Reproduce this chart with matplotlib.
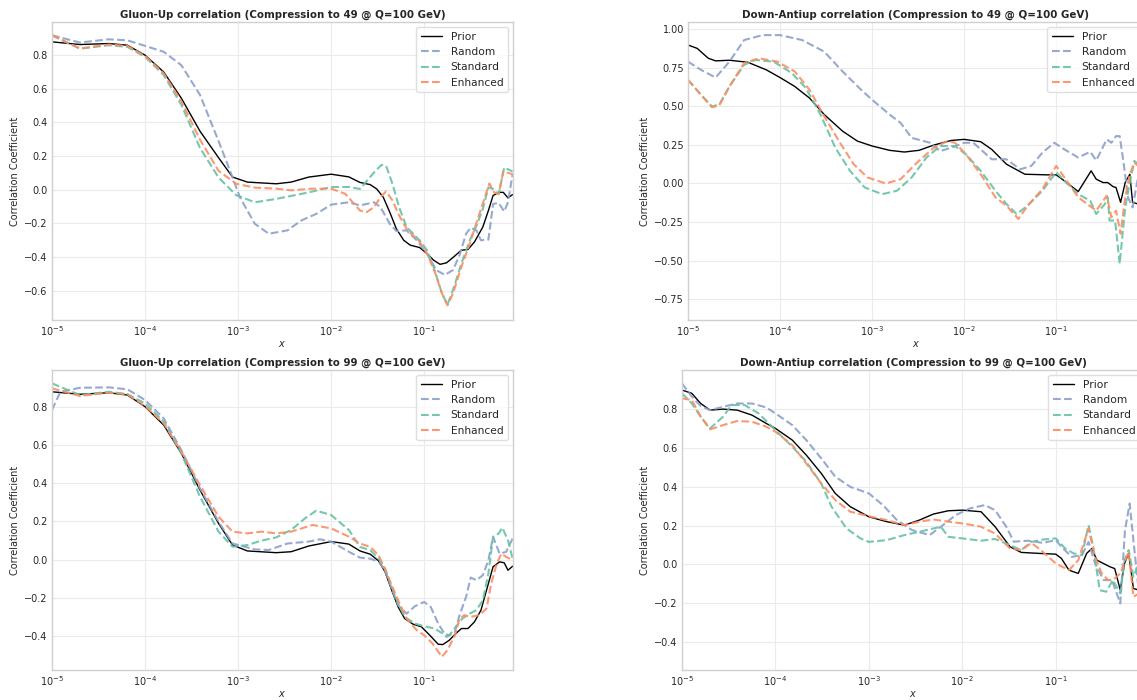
import numpy as np
import matplotlib
matplotlib.use("Agg")
import matplotlib.pyplot as plt
import seaborn as sns

sns.set_style("whitegrid")
plt.rcParams['font.family'] = ['DejaVu Sans']

labels = ["Prior", "Random", "Standard", "Enhanced"]
colors = ["black", "#8da0cb", "#66c2a5", "#fc8d62"]

titles = [
    "Gluon-Up correlation (Compression to 49 @ Q=100 GeV)",
    "Down-Antiup correlation (Compression to 49 @ Q=100 GeV)",
    "Gluon-Up correlation (Compression to 99 @ Q=100 GeV)",
    "Down-Antiup correlation (Compression to 99 @ Q=100 GeV)",
]

# (log10 x, correlation) pairs
tl_prior = [(-5.00,0.879),(-4.70,0.863),(-4.39,0.869),(-4.19,0.859),(-4.00,0.800),(-3.80,0.700),(-3.61,0.544),(-3.41,0.348),(-3.21,0.190),(-3.06,0.075),(-2.90,0.045),(-2.59,0.035),(-2.43,0.045),(-2.24,0.075),(-2.00,0.092),(-1.81,0.076),
            (-1.69,0.043),(-1.58,0.030),(-1.51,0.004),(-1.44,-0.045),(-1.37,-0.134),(-1.30,-0.232),(-1.22,-0.301),(-1.15,-0.330),(-1.05,-0.344),(-0.97,-0.380),(-0.90,-0.419),(-0.83,-0.444),(-0.76,-0.435),(-0.69,-0.403),(-0.60,-0.360),(-0.53,-0.356),(-0.46,-0.311),(-0.37,-0.222),(-0.31,-0.124),(-0.26,-0.035),(-0.20,-0.016),(-0.15,-0.016),(-0.10,-0.049),(-0.05,-0.029)]
tl_random = [(-5.00,0.918),(-4.70,0.875),(-4.39,0.894),(-4.19,0.888),(-4.00,0.855),(-3.80,0.820),(-3.61,0.740),(-3.41,0.564),(-3.21,0.289),(-3.10,0.131),(-2.98,-0.046),(-2.82,-0.203),(-2.67,-0.262),(-2.47,-0.242),(-2.32,-0.183),(-2.16,-0.144),(-2.00,-0.089),(-1.81,-0.075),
             (-1.69,-0.094),(-1.54,-0.075),(-1.47,-0.104),(-1.37,-0.203),(-1.30,-0.246),(-1.19,-0.242),(-1.08,-0.301),(-0.97,-0.380),(-0.87,-0.478),(-0.78,-0.507),(-0.69,-0.478),(-0.62,-0.389),(-0.55,-0.262),(-0.50,-0.226),(-0.44,-0.242),(-0.39,-0.301),(-0.31,-0.297),(-0.26,-0.085),(-0.20,-0.079),(-0.14,-0.130),(-0.10,-0.075),(-0.05,0.092)]
tl_standard = [(-5.00,0.918),(-4.70,0.839),(-4.39,0.859),(-4.19,0.849),(-4.00,0.790),(-3.80,0.682),(-3.61,0.505),(-3.41,0.249),(-3.21,0.072),(-3.02,-0.033),(-2.82,-0.075),(-2.59,-0.055),(-2.24,-0.016),(-2.00,0.016),(-1.81,0.016),
               (-1.69,0.004),(-1.54,0.102),(-1.46,0.147),(-1.41,0.142),(-1.34,0.033),(-1.27,-0.104),(-1.19,-0.222),(-1.05,-0.301),(-0.97,-0.360),(-0.90,-0.458),(-0.81,-0.616),(-0.75,-0.684),(-0.69,-0.596),(-0.60,-0.439),(-0.51,-0.301),(-0.43,-0.203),(-0.37,-0.114),(-0.31,0.014),(-0.26,0.004),(-0.20,-0.026),(-0.14,0.132),(-0.05,0.108)]
tl_enhanced = [(-5.00,0.918),(-4.70,0.839),(-4.39,0.863),(-4.19,0.855),(-4.00,0.796),(-3.80,0.692),(-3.61,0.525),(-3.41,0.298),(-3.21,0.112),(-3.02,0.035),(-2.82,0.012),(-2.59,0.006),(-2.43,-0.004),(-2.20,0.006),(-2.00,0.006),(-1.85,-0.024),
               (-1.69,-0.124),(-1.62,-0.134),(-1.54,-0.104),(-1.47,-0.045),(-1.41,-0.010),(-1.34,-0.065),(-1.27,-0.153),(-1.18,-0.242),(-1.06,-0.301),(-0.97,-0.380),(-0.88,-0.498),(-0.81,-0.616),(-0.75,-0.688),(-0.69,-0.616),(-0.60,-0.458),(-0.51,-0.321),(-0.43,-0.183),(-0.36,-0.065),(-0.30,0.037),(-0.25,-0.016),(-0.20,-0.026),(-0.15,0.108),(-0.05,0.092)]

tr_prior = [(-5.00,0.898),(-4.90,0.876),(-4.78,0.812),(-4.70,0.795),(-4.55,0.799),(-4.35,0.786),(-4.15,0.737),(-4.00,0.687),(-3.84,0.629),(-3.68,0.554),(-3.52,0.447),(-3.32,0.339),(-3.16,0.275),(-3.00,0.243),(-2.81,0.215),(-2.65,0.204),(-2.49,0.215),(-2.33,0.249),(-2.14,0.279),(-2.00,0.286),(-1.82,0.271),(-1.70,0.221),(-1.54,0.125),(-1.34,0.060),(-1.10,0.056),(-1.00,0.056),(-0.91,0.017),(-0.76,-0.052),(-0.62,0.082),(-0.565,0.028),(-0.49,0.006),(-0.44,0.006),(-0.38,-0.021),(-0.35,-0.026),(-0.30,-0.122),(-0.25,0.006),(-0.20,0.060),(-0.17,-0.122),(-0.11,-0.133),(-0.05,-0.140)]
tr_random = [(-5.00,0.790),(-4.86,0.737),(-4.70,0.687),(-4.55,0.790),(-4.39,0.930),(-4.19,0.962),(-4.00,0.962),(-3.76,0.930),(-3.52,0.855),(-3.32,0.726),(-3.12,0.608),(-3.00,0.543),(-2.81,0.447),(-2.69,0.393),(-2.57,0.296),(-2.37,0.264),(-2.26,0.210),(-2.14,0.232),(-2.00,0.264),(-1.90,0.264),(-1.70,0.157),(-1.54,0.157),(-1.39,0.092),(-1.27,0.114),(-1.15,0.200),(-1.02,0.264),(-0.91,0.221),(-0.76,0.168),(-0.63,0.206),(-0.565,0.150),(-0.45,0.286),(-0.40,0.264),(-0.35,0.307),(-0.31,0.307),(-0.27,0.146),(-0.22,-0.090),(-0.17,-0.155),(-0.11,0.040),(-0.05,0.100)]
tr_standard = [(-5.00,0.672),(-4.86,0.576),(-4.74,0.500),(-4.66,0.511),(-4.55,0.629),(-4.39,0.769),(-4.27,0.801),(-4.07,0.790),(-3.87,0.715),(-3.72,0.619),(-3.56,0.447),(-3.40,0.232),(-3.24,0.082),(-3.08,-0.026),(-2.89,-0.069),(-2.73,-0.047),(-2.57,0.039),(-2.41,0.168),(-2.26,0.243),(-2.10,0.243),(-1.98,0.189),(-1.82,0.082),(-1.66,-0.047),(-1.54,-0.133),(-1.43,-0.198),(-1.31,-0.144),(-1.15,-0.047),(-1.00,0.074),(-0.91,0.017),(-0.76,-0.069),(-0.63,-0.112),(-0.565,-0.198),(-0.47,-0.133),(-0.44,-0.090),(-0.42,-0.240),(-0.36,-0.240),(-0.31,-0.520),(-0.25,-0.155),(-0.20,0.006),(-0.15,0.146),(-0.11,0.125),(-0.05,0.100)]
tr_enhanced = [(-5.00,0.672),(-4.86,0.576),(-4.74,0.494),(-4.66,0.507),(-4.55,0.629),(-4.39,0.780),(-4.23,0.812),(-4.03,0.790),(-3.84,0.726),(-3.68,0.608),(-3.52,0.436),(-3.36,0.275),(-3.20,0.125),(-3.05,0.039),(-2.85,0.000),(-2.69,0.028),(-2.53,0.125),(-2.33,0.232),(-2.18,0.275),(-2.10,0.264),(-1.98,0.189),(-1.82,0.060),(-1.66,-0.090),(-1.54,-0.144),(-1.41,-0.230),(-1.31,-0.144),(-1.15,-0.037),(-1.00,0.114),(-0.91,0.039),(-0.76,-0.090),(-0.565,-0.176),(-0.45,-0.079),(-0.40,-0.219),(-0.35,-0.176),(-0.30,-0.326),(-0.25,-0.090),(-0.20,0.060),(-0.15,0.135),(-0.11,0.114),(-0.05,0.100)]

bl_prior = [(-5.00,0.878),(-4.70,0.865),(-4.39,0.873),(-4.19,0.861),(-4.00,0.800),(-3.80,0.704),(-3.61,0.556),(-3.41,0.364),(-3.21,0.189),(-3.06,0.076),(-2.90,0.045),(-2.59,0.036),(-2.43,0.041),(-2.24,0.071),(-2.00,0.094),(-1.81,0.081),
            (-1.69,0.045),(-1.58,0.028),(-1.49,-0.007),(-1.42,-0.065),(-1.35,-0.160),(-1.28,-0.248),(-1.21,-0.309),(-1.12,-0.338),(-1.03,-0.352),(-0.94,-0.396),(-0.85,-0.443),(-0.80,-0.445),(-0.73,-0.422),(-0.66,-0.387),(-0.60,-0.361),(-0.53,-0.361),(-0.46,-0.326),(-0.39,-0.265),(-0.33,-0.160),(-0.26,-0.038),(-0.19,-0.012),(-0.14,-0.017),(-0.10,-0.056),(-0.05,-0.035)]
bl_random = [(-5.00,0.783),(-4.91,0.878),(-4.70,0.899),(-4.39,0.901),(-4.19,0.891),(-4.00,0.835),(-3.80,0.739),(-3.61,0.573),(-3.41,0.373),(-3.21,0.198),(-3.06,0.084),(-2.82,0.053),(-2.67,0.050),(-2.47,0.084),(-2.24,0.094),(-2.12,0.106),(-2.00,0.094),(-1.81,0.041),
             (-1.69,0.010),(-1.58,0.005),(-1.49,-0.012),(-1.42,-0.056),(-1.35,-0.152),(-1.28,-0.239),(-1.19,-0.283),(-1.10,-0.244),(-1.00,-0.222),(-0.93,-0.248),(-0.85,-0.335),(-0.76,-0.405),(-0.67,-0.379),(-0.62,-0.291),(-0.55,-0.195),(-0.50,-0.094),(-0.44,-0.108),(-0.37,-0.082),(-0.31,-0.003),(-0.26,0.119),(-0.19,0.031),(-0.12,0.040),(-0.05,0.110)]
bl_standard = [(-5.00,0.922),(-4.70,0.861),(-4.39,0.878),(-4.19,0.866),(-4.00,0.817),(-3.80,0.722),(-3.61,0.556),(-3.41,0.329),(-3.21,0.146),(-3.06,0.067),(-2.90,0.076),(-2.75,0.099),(-2.59,0.116),(-2.43,0.155),(-2.28,0.216),(-2.16,0.256),(-2.00,0.233),(-1.81,0.155),
               (-1.69,0.066),(-1.58,0.049),(-1.49,0.005),(-1.42,-0.047),(-1.35,-0.143),(-1.28,-0.230),(-1.21,-0.300),(-1.10,-0.335),(-1.00,-0.349),(-0.89,-0.361),(-0.80,-0.387),(-0.73,-0.396),(-0.66,-0.352),(-0.59,-0.309),(-0.51,-0.283),(-0.44,-0.265),(-0.37,-0.213),(-0.31,-0.073),(-0.26,0.119),(-0.20,0.136),(-0.16,0.167),(-0.10,0.101),(-0.05,0.005)]
bl_enhanced = [(-5.00,0.896),(-4.70,0.856),(-4.39,0.873),(-4.19,0.865),(-4.00,0.803),(-3.80,0.713),(-3.61,0.565),(-3.41,0.390),(-3.21,0.224),(-3.06,0.146),(-2.90,0.137),(-2.75,0.146),(-2.59,0.137),(-2.43,0.146),(-2.20,0.181),(-2.00,0.163),(-1.81,0.120),
               (-1.69,0.084),(-1.58,0.066),(-1.49,0.023),(-1.42,-0.056),(-1.35,-0.134),(-1.28,-0.213),(-1.19,-0.309),(-1.08,-0.370),(-1.00,-0.396),(-0.91,-0.440),(-0.81,-0.509),(-0.75,-0.474),(-0.67,-0.396),(-0.62,-0.309),(-0.57,-0.291),(-0.50,-0.300),(-0.41,-0.291),(-0.33,-0.256),(-0.28,-0.126),(-0.22,-0.021),(-0.17,0.031),(-0.12,0.014),(-0.05,-0.003)]

br_prior = [(-5.00,0.896),(-4.895,0.879),(-4.80,0.827),(-4.70,0.793),(-4.56,0.798),(-4.41,0.793),(-4.25,0.767),(-4.10,0.725),(-4.00,0.699),(-3.82,0.639),(-3.67,0.562),(-3.51,0.468),(-3.36,0.365),(-3.20,0.297),(-3.00,0.245),(-2.81,0.220),(-2.62,0.202),(-2.46,0.228),(-2.31,0.259),(-2.15,0.276),(-2.00,0.279),(-1.80,0.271),(-1.65,0.194),(-1.49,0.091),(-1.37,0.062),(-1.18,0.057),(-1.00,0.053),(-0.94,0.031),(-0.86,-0.029),(-0.76,-0.046),(-0.67,0.057),(-0.615,0.082),(-0.56,0.022),(-0.49,0.005),(-0.42,-0.012),(-0.37,-0.021),(-0.31,-0.132),(-0.265,0.005),(-0.22,0.057),(-0.17,-0.123),(-0.11,-0.132),(-0.05,-0.140)]
br_random = [(-5.00,0.930),(-4.895,0.862),(-4.80,0.814),(-4.70,0.793),(-4.56,0.810),(-4.41,0.827),(-4.25,0.827),(-4.10,0.807),(-4.00,0.776),(-3.82,0.716),(-3.67,0.639),(-3.51,0.545),(-3.36,0.451),(-3.20,0.399),(-3.00,0.365),(-2.85,0.305),(-2.70,0.228),(-2.54,0.177),(-2.35,0.151),(-2.23,0.194),(-2.07,0.254),(-1.92,0.288),(-1.76,0.305),(-1.65,0.279),(-1.53,0.194),(-1.45,0.117),(-1.30,0.122),(-1.14,0.111),(-1.00,0.125),(-0.94,0.091),(-0.83,0.039),(-0.72,0.048),(-0.65,0.116),(-0.58,0.005),(-0.49,-0.080),(-0.40,-0.080),(-0.31,-0.200),(-0.26,0.176),(-0.21,0.313),(-0.17,0.125),(-0.11,-0.149),(-0.05,-0.200)]
br_standard = [(-5.00,0.879),(-4.895,0.827),(-4.80,0.759),(-4.70,0.699),(-4.56,0.759),(-4.47,0.819),(-4.33,0.819),(-4.18,0.776),(-4.00,0.690),(-3.82,0.605),(-3.67,0.528),(-3.51,0.416),(-3.40,0.297),(-3.24,0.185),(-3.09,0.134),(-3.00,0.116),(-2.81,0.125),(-2.62,0.151),(-2.46,0.168),(-2.31,0.185),(-2.23,0.194),(-2.15,0.142),(-2.00,0.134),(-1.80,0.122),(-1.65,0.131),(-1.49,0.099),(-1.37,0.074),(-1.26,0.116),(-1.14,0.128),(-1.00,0.134),(-0.90,0.082),(-0.81,0.057),(-0.72,0.048),(-0.65,0.202),(-0.60,0.091),(-0.53,-0.132),(-0.46,-0.140),(-0.39,-0.080),(-0.31,-0.149),(-0.265,0.022),(-0.22,0.074),(-0.17,-0.063),(-0.11,0.005),(-0.05,0.000)]
br_enhanced = [(-5.00,0.853),(-4.895,0.845),(-4.80,0.759),(-4.70,0.694),(-4.56,0.716),(-4.41,0.737),(-4.25,0.733),(-4.10,0.708),(-4.00,0.682),(-3.82,0.613),(-3.67,0.519),(-3.51,0.416),(-3.36,0.331),(-3.20,0.271),(-3.00,0.248),(-2.81,0.228),(-2.62,0.202),(-2.46,0.220),(-2.31,0.231),(-2.15,0.220),(-2.00,0.211),(-1.80,0.194),(-1.65,0.159),(-1.49,0.082),(-1.37,0.074),(-1.26,0.111),(-1.14,0.065),(-1.00,0.005),(-0.86,-0.029),(-0.76,0.022),(-0.65,0.185),(-0.58,0.039),(-0.51,-0.046),(-0.44,-0.080),(-0.39,-0.080),(-0.31,-0.046),(-0.22,0.065),(-0.17,-0.166),(-0.11,-0.149),(-0.05,-0.170)]

panels = [
    [tl_prior, tl_random, tl_standard, tl_enhanced],
    [tr_prior, tr_random, tr_standard, tr_enhanced],
    [bl_prior, bl_random, bl_standard, bl_enhanced],
    [br_prior, br_random, br_standard, br_enhanced],
]
ylims = [(-0.775, 0.997), (-0.885, 1.047), (-0.578, 0.992), (-0.542, 0.999)]

W, H = 1137, 700
fig = plt.figure(figsize=(W / 100, H / 100), dpi=100)
rects = [
    (52, 22, 461, 298),
    (688, 22, 456, 298),
    (52, 370, 461, 300),
    (682, 370, 463, 300),
]

text_color = "#262626"
for i, (l, t, w, h) in enumerate(rects):
    ax = fig.add_axes([l / W, 1 - (t + h) / H, w / W, h / H])
    for j, series in enumerate(panels[i]):
        arr = np.array(series)
        xv = 10.0 ** arr[:, 0]
        if j == 0:
            ax.plot(xv, arr[:, 1], color=colors[j], lw=1.0, label=labels[j])
        else:
            ax.plot(xv, arr[:, 1], color=colors[j], lw=1.5, ls="--", alpha=0.9, label=labels[j])
    ax.set_xscale("log")
    ax.set_xlim(1e-5, 0.9)
    ax.set_ylim(*ylims[i])
    ax.set_xticks([1e-5, 1e-4, 1e-3, 1e-2, 1e-1])
    ax.minorticks_off()
    ax.tick_params(labelsize=7.0, colors=text_color, length=0, pad=3)
    ax.set_title(titles[i], fontsize=7.4, fontweight="bold", color=text_color, pad=3)
    ax.set_xlabel("$x$", fontsize=7.0, color=text_color, labelpad=1)
    ax.set_ylabel("Correlation Coefficient", fontsize=7.0, color=text_color, labelpad=3)
    ax.grid(True, color="#ebebeb", lw=0.8)
    for sp in ax.spines.values():
        sp.set_color("#d0d0d0")
        sp.set_linewidth(1.0)
    leg = ax.legend(loc="upper right", fontsize=7.7, frameon=True, borderaxespad=0.5)
    leg.get_frame().set_edgecolor("#d8d8d8")
    for txt in leg.get_texts():
        txt.set_color(text_color)

fig.savefig("out.png", dpi=100)
